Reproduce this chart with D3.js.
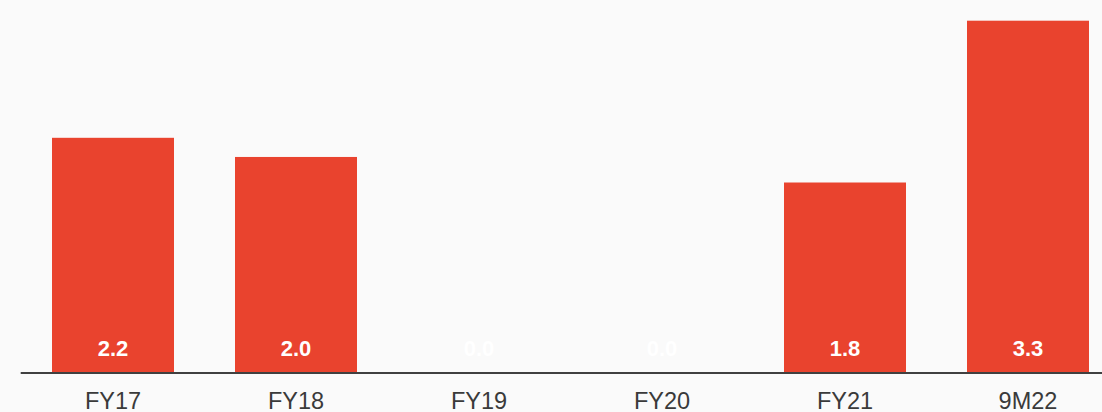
<!DOCTYPE html>
<html><head><meta charset="utf-8">
<script src="https://cdn.jsdelivr.net/npm/d3@7"></script>
<style>html,body{margin:0;padding:0;background:#fafafa;overflow:hidden}</style>
</head><body><svg id="c" width="1102" height="412"></svg>
<script>
const categories = ["FY17","FY18","FY19","FY20","FY21","9M22"];
const values = [2.2, 2.02, 0.0, 0.0, 1.78, 3.3];

const svg = d3.select("#c");
svg.append("rect").attr("width",1102).attr("height",412).attr("fill","#fafafa");
const x = d3.scaleBand().domain(categories).range([21.5, 1119.5]).paddingInner(1/3).paddingOuter(1/6);
const y = d3.scaleLinear().domain([0, 3.3]).range([372, 20.7]);

svg.selectAll("rect.bar").data(categories).join("rect").attr("class","bar")
  .attr("x", d => x(d)).attr("width", x.bandwidth())
  .attr("y", (d,i) => y(values[i])).attr("height", (d,i) => y(0) - y(values[i]))
  .attr("fill", "#e9432e");

svg.selectAll("text.val").data(categories).join("text").attr("class","val")
  .attr("x", d => x(d) + x.bandwidth()/2).attr("y", 356)
  .attr("text-anchor","middle").attr("fill","#ffffff")
  .style("font","bold 22px 'Liberation Sans', Arial, sans-serif")
  .text((d,i) => d3.format(".1f")(values[i]));

const ax = svg.append("g").attr("transform","translate(0,373)")
  .call(d3.axisBottom(x).tickSize(0).tickPadding(0));
ax.select(".domain").remove();
svg.append("line").attr("x1",20.7).attr("x2",1102).attr("y1",373).attr("y2",373)
  .attr("stroke","#404040").attr("stroke-width",2);
ax.selectAll("text").attr("dy",null).attr("y",36)
  .attr("fill","#3a3a3a")
  .style("font","23.5px 'Liberation Sans', Arial, sans-serif");
</script></body></html>
